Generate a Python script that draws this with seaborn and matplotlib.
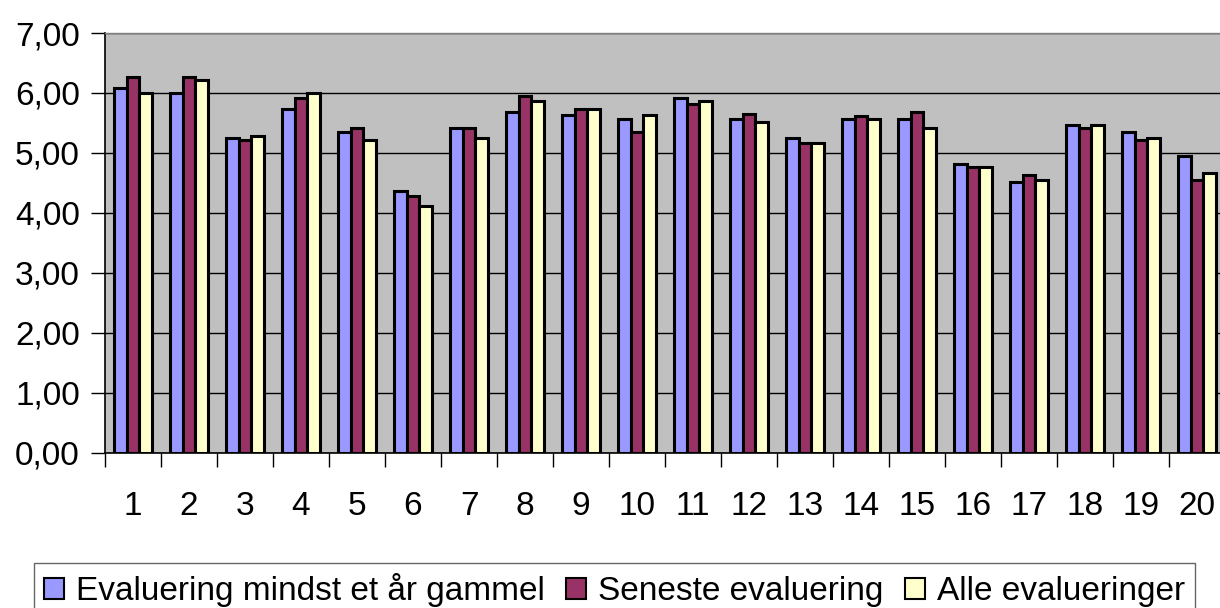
import matplotlib
matplotlib.use('Agg')
import matplotlib.pyplot as plt
import seaborn as sns
import pandas as pd
import numpy as np

# ==========================================
# DATA
# ==========================================
categories = [str(i) for i in range(1, 21)]
series_names = ['Evaluering mindst et år gammel', 'Seneste evaluering', 'Alle evalueringer']

old_eval = [6.08, 6.00, 5.24, 5.73, 5.34, 4.37, 5.42, 5.69, 5.64, 5.56,
            5.91, 5.56, 5.24, 5.56, 5.56, 4.81, 4.51, 5.47, 5.34, 4.94]
latest_eval = [6.26, 6.26, 5.21, 5.91, 5.42, 4.28, 5.42, 5.95, 5.73, 5.34,
               5.82, 5.65, 5.16, 5.61, 5.69, 4.76, 4.63, 5.42, 5.21, 4.54]
all_eval = [6.00, 6.22, 5.28, 6.00, 5.21, 4.11, 5.24, 5.87, 5.73, 5.64,
            5.87, 5.51, 5.16, 5.56, 5.42, 4.76, 4.54, 5.47, 5.24, 4.67]

colors = ['#9999FF', '#993366', '#FFFFCC']
y_ticks = [0, 1, 2, 3, 4, 5, 6, 7]

df = pd.DataFrame({
    'Kategori': categories * 3,
    'Serie': np.repeat(series_names, len(categories)),
    'Verdi': old_eval + latest_eval + all_eval,
})

# ==========================================
# STYLE
# ==========================================
sns.set_theme(style='white')
plt.rcParams['font.family'] = ['Liberation Sans', 'DejaVu Sans']
plt.rcParams['text.color'] = 'black'
plt.rcParams['xtick.color'] = 'black'
plt.rcParams['ytick.color'] = 'black'

fig = plt.figure(figsize=(12.2, 6.08), dpi=100)
ax = fig.add_axes([105 / 1220, 1 - 452.5 / 608, 1120 / 1220, 419.5 / 608])
ax.set_facecolor('#C0C0C0')

sns.barplot(data=df, x='Kategori', y='Verdi', hue='Serie', order=categories,
            hue_order=series_names, palette=colors, width=0.68,
            edgecolor='black', linewidth=2.2, saturation=1, errorbar=None, ax=ax)

# grid + axes
ax.set_ylim(0, 7)
ax.set_xlim(-0.5, 19.5)
ax.set_yticks(y_ticks)
ax.set_yticklabels([f'{v:.2f}'.replace('.', ',') for v in y_ticks])
ax.yaxis.grid(True, color='black', linewidth=1)
ax.set_axisbelow(True)
ax.tick_params(axis='y', direction='out', length=10, width=1, color='black',
               labelsize=24, labelcolor='black', pad=8, left=True)
ax.tick_params(axis='x', which='major', length=0, labelsize=24,
               labelcolor='black', pad=28)
ax.set_xticks(np.arange(-0.5, 20, 1), minor=True)
ax.tick_params(axis='x', which='minor', direction='out', length=10, width=1,
               color='black', bottom=True)
ax.set_xlabel('')
ax.set_ylabel('')

for side in ['left', 'bottom']:
    ax.spines[side].set_color('black')
    ax.spines[side].set_linewidth(1.2)
ax.spines['top'].set_color('#808080')
ax.spines['top'].set_linewidth(1)
ax.spines['right'].set_visible(False)

# legend at the bottom, boxed
handles, labels = ax.get_legend_handles_labels()
ax.get_legend().remove()
leg = fig.legend(handles, labels, loc='upper left', ncol=3,
                 bbox_to_anchor=(34 / 1220, 1 - 563 / 608),
                 frameon=True, fancybox=False, fontsize=24,
                 handlelength=0.6, handleheight=0.6, handletextpad=0.35,
                 columnspacing=0.65, borderpad=0.3, borderaxespad=0)
leg.get_frame().set_edgecolor('#404040')
leg.get_frame().set_linewidth(1)
for h in leg.legend_handles:
    h.set_edgecolor('black')
    h.set_linewidth(1.5)

plt.savefig('out.png', dpi=100)
